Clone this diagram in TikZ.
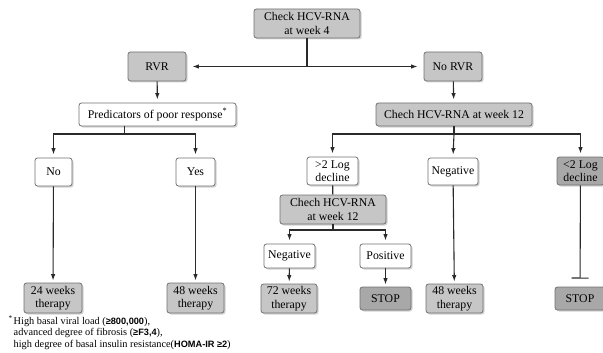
\documentclass[tikz,border=0pt]{standalone}
\usepackage{fontspec}
\setmainfont{Liberation Serif}
\newfontfamily\fnsans{Liberation Sans}
\usetikzlibrary{arrows.meta,shadows}
\definecolor{lightbox}{HTML}{C6C6C6}
\definecolor{darkbox}{HTML}{A8A8A8}
\definecolor{edgegray}{HTML}{707070}
\definecolor{linecol}{HTML}{2A2A2A}
\tikzset{
  box/.style={draw=edgegray, line width=0.8pt, rounded corners=2.5pt, align=center,
    inner sep=1pt, font=\fontsize{11.8}{13.5}\selectfont,
    drop shadow={opacity=0.35, shadow xshift=1.5pt, shadow yshift=-1.5pt}},
  wbox/.style={box, fill=white},
  gbox/.style={box, fill=lightbox},
  dbox/.style={box, fill=darkbox},
  conn/.style={draw=linecol, line width=1.1pt},
  arr/.style={conn, -{Latex[length=6.5pt,width=4.5pt]}},
}
\begin{document}
\begin{tikzpicture}[x=1pt,y=-1pt]
\useasboundingbox (0,0) rectangle (603,353);
% nodes
\node[gbox, minimum width=106pt, minimum height=29pt] (chk4) at (307,23.5) {Check HCV-RNA\\at week 4};
\node[gbox, minimum width=58pt, minimum height=29pt] (rvr) at (157,66.5) {RVR};
\node[gbox, minimum width=58pt, minimum height=29pt] (norvr) at (453,66.5) {No RVR};
\node[wbox, minimum width=157pt, minimum height=23pt] (pred) at (157.5,114.5) {Predicators of poor response\textsuperscript{*}};
\node[gbox, minimum width=156pt, minimum height=23pt] (chk12) at (454,114.5) {Chech HCV-RNA at week 12};
\node[wbox, minimum width=37pt, minimum height=28pt] (no) at (53.5,172) {No};
\node[wbox, minimum width=39pt, minimum height=28pt] (yes) at (195.5,172) {Yes};
\node[wbox, minimum width=51pt, minimum height=28pt] (gt2) at (332.5,171) {>2 Log\\decline};
\node[wbox, minimum width=50pt, minimum height=27pt] (negm) at (453,171.5) {Negative};
\node[dbox, minimum width=47pt, minimum height=28pt] (lt2) at (580.5,171) {<2 Log\\decline};
\node[gbox, minimum width=106pt, minimum height=29pt] (chk12b) at (333,209.5) {Chech HCV-RNA\\at week 12};
\node[wbox, minimum width=51pt, minimum height=24pt] (negl) at (289.5,256) {Negative};
\node[wbox, minimum width=51pt, minimum height=24pt] (pos) at (385.5,256) {Positive};
\node[gbox, minimum width=58pt, minimum height=30pt] (w24) at (53,298) {24 weeks\\therapy};
\node[gbox, minimum width=57pt, minimum height=30pt] (w48a) at (195.5,298) {48 weeks\\therapy};
\node[gbox, minimum width=56pt, minimum height=29pt] (w72) at (289,298.5) {72 weeks\\therapy};
\node[dbox, minimum width=51pt, minimum height=23pt] (stop1) at (385.5,298.5) {STOP};
\node[gbox, minimum width=57pt, minimum height=29pt] (w48b) at (454.5,298.5) {48 weeks\\therapy};
\node[dbox, minimum width=50pt, minimum height=23pt] (stop2) at (580,298.5) {STOP};
% footnote
\node[anchor=north west, inner sep=0pt, align=left, font=\fontsize{10.3}{11.6}\selectfont] (fn) at (13.5,315.5)
 {\llap{\textsuperscript{*}\kern1pt}High basal viral load ({\fnsans\bfseries\fontsize{9.2}{11.6}\selectfont ≥800,000}),\\
  advanced degree of fibrosis ({\fnsans\bfseries\fontsize{9.2}{11.6}\selectfont ≥F3,4}),\\
  high degree of basal insulin resistance({\fnsans\bfseries\fontsize{9.2}{11.6}\selectfont HOMA-IR ≥2})};
% junctions
\coordinate (jtop) at (chk4.south |- rvr.east);
\coordinate (j1) at (124.5,134);
\coordinate (j2) at (chk12.south |- j1);
\coordinate (j3) at (333,230);
% connectors
\draw[conn] (chk4.south) -- (jtop);
\draw[conn, {Latex[length=6.5pt,width=4.5pt]}-{Latex[length=6.5pt,width=4.5pt]}, shorten <=6pt, shorten >=6pt] (rvr.east) -- (norvr.west);
\draw[arr, shorten >=3pt] (rvr) -- (pred);
\draw[arr, shorten >=3pt] (norvr) -- (chk12);
\draw[conn] (j1 |- pred.south) -- (j1);
\draw[arr, shorten >=3pt] (j1) -| (no.north);
\draw[arr, shorten >=3pt] (j1) -| (yes.north);
\draw[conn] (chk12.south) -- (j2);
\draw[arr, shorten >=3pt] (j2) -| (gt2.north);
\draw[arr, shorten >=3pt] (j2) -- (negm.north);
\draw[arr, shorten >=3pt] (j2) -| (lt2.north);
\draw[conn] (gt2) -- (chk12b);
\draw[conn] (j3 |- chk12b.south) -- (j3);
\draw[arr, shorten >=3pt] (j3) -| (negl.north);
\draw[arr, shorten >=3pt] (j3) -| (pos.north);
\draw[arr, shorten >=2pt] (no) -- (w24);
\draw[arr, shorten >=2pt] (yes) -- (w48a);
\draw[arr, shorten >=2pt] (negl) -- (w72);
\draw[arr, shorten >=2pt] (pos) -- (stop1);
\draw[arr, shorten >=2pt] (negm) -- (w48b);
\draw[conn, -{Bar[width=17pt]}, shorten >=8pt] (lt2) -- (stop2);
\end{tikzpicture}
\end{document}
